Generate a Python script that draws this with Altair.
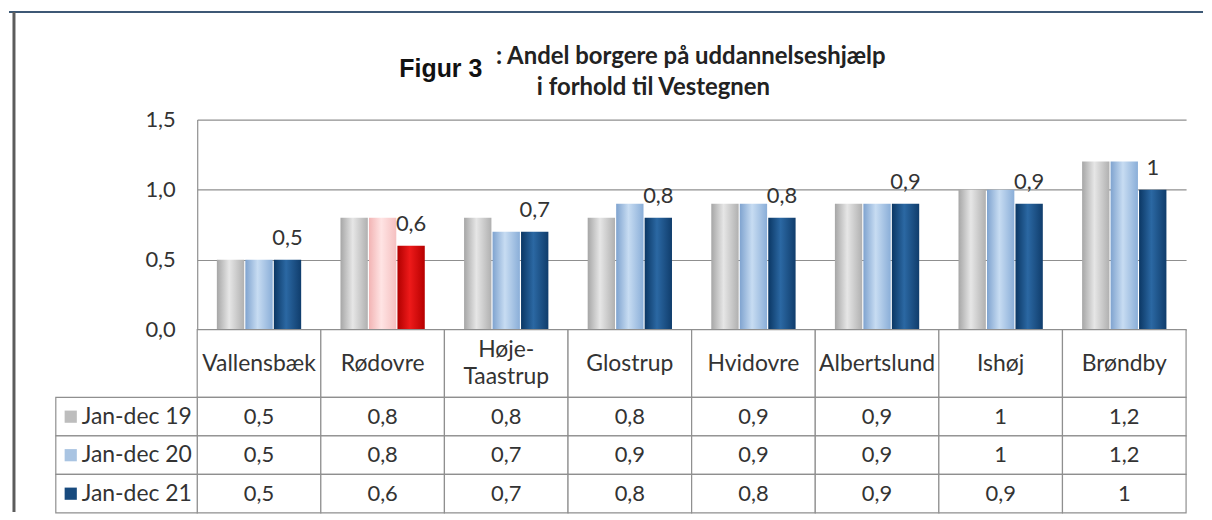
import altair as alt
import pandas as pd

# ---- data ----
categories = ["Vallensbæk", "Rødovre", "Høje-Taastrup", "Glostrup",
              "Hvidovre", "Albertslund", "Ishøj", "Brøndby"]
header_labels = ["Vallensbæk", "Rødovre", "Høje-\nTaastrup", "Glostrup",
                 "Hvidovre", "Albertslund", "Ishøj", "Brøndby"]
series = ["Jan-dec 19", "Jan-dec 20", "Jan-dec 21"]
jan_dec_19 = [0.5, 0.8, 0.8, 0.8, 0.9, 0.9, 1.0, 1.2]
jan_dec_20 = [0.5, 0.8, 0.7, 0.9, 0.9, 0.9, 1.0, 1.2]
jan_dec_21 = [0.5, 0.6, 0.7, 0.8, 0.8, 0.9, 0.9, 1.0]
highlight = "Rødovre"
y_ticks = [0, 0.5, 1.0, 1.5]
title_prefix = "Figur 3"
title_line1 = ": Andel borgere på uddannelseshjælp"
title_line2 = "i forhold til Vestegnen"

rows = []
for s, vals in zip(series, [jan_dec_19, jan_dec_20, jan_dec_21]):
    for c, v in zip(categories, vals):
        rows.append({"cat": c, "series": s, "value": v,
                     "shade": ("hl " if c == highlight else "") + s})
df = pd.DataFrame(rows)

FONT = "Lato"
TXT = "#333333"
GRID = "#8f8f8f"
W = 993


def grad(c0, c1, c2):
    return alt.LinearGradient(
        gradient="linear", x1=0, x2=1, y1=0, y2=0,
        stops=[alt.GradientStop(color=c0, offset=0),
               alt.GradientStop(color=c1, offset=0.45),
               alt.GradientStop(color=c2, offset=1)])


gray = grad("#a6a6a6", "#e6e6e6", "#b0b0b0")
fills = {
    "Jan-dec 19": gray,
    "Jan-dec 20": grad("#7fa3cf", "#c7dcf2", "#8aaed8"),
    "Jan-dec 21": grad("#0b3764", "#2b68a3", "#103d6c"),
    "hl Jan-dec 19": gray,
    "hl Jan-dec 20": grad("#f2b4b4", "#ffe4e4", "#f5c0c0"),
    "hl Jan-dec 21": grad("#b00000", "#ee1a1a", "#b60000"),
}
swatch_colors = ["#bdbdbd", "#a9c4e2", "#174a7e"]

xscale = alt.Scale(domain=categories, paddingInner=0, paddingOuter=0)

base = alt.Chart(df).encode(
    x=alt.X("cat:N", scale=xscale, axis=None),
    xOffset=alt.XOffset("series:N", scale=alt.Scale(domain=series, paddingInner=0.04, paddingOuter=0.69)),
    y=alt.Y("value:Q", scale=alt.Scale(domain=[0, 1.5]),
            axis=alt.Axis(values=y_ticks, title=None, ticks=False, grid=True,
                          gridColor=GRID, gridWidth=1.2, domainColor=GRID, domainWidth=1.2,
                          labelExpr="replace(format(datum.value, '.1f'), '.', ',')",
                          labelFont=FONT, labelFontSize=22, labelColor=TXT,
                          labelPadding=22, labelBaseline="middle")),
)

bar_layers = [base.transform_filter(alt.datum.shade == k).mark_bar(fill=g)
              for k, g in fills.items()]

labels = base.transform_filter(alt.datum.series == series[2]).transform_calculate(
    lbl="replace(toString(datum.value), '.', ',')"
).mark_text(baseline="alphabetic", dy=-15, font=FONT, fontSize=22, color=TXT).encode(
    text="lbl:N")

deco = alt.Chart(pd.DataFrame({"k": [0]}))
frame_top = deco.mark_rule(color="#3d5875", strokeWidth=2).encode(
    x=alt.value(-189), x2=alt.value(1010), y=alt.value(-108))
frame_left = deco.mark_rule(color="#5c5c5c", strokeWidth=3).encode(
    x=alt.value(-184), y=alt.value(-108), y2=alt.value(394))
t0 = deco.mark_text(align="left", baseline="alphabetic", font="Liberation Sans",
                    fontWeight="bold", fontSize=25, color="#111111").encode(
    x=alt.value(203), y=alt.value(-43), text=alt.value(title_prefix))
t1 = deco.mark_text(align="left", baseline="alphabetic", font=FONT,
                    fontWeight="bold", fontSize=24, color="#222222").encode(
    x=alt.value(300), y=alt.value(-56), text=alt.value(title_line1))
t2 = deco.mark_text(align="left", baseline="alphabetic", font=FONT,
                    fontWeight="bold", fontSize=24, color="#222222").encode(
    x=alt.value(341), y=alt.value(-25), text=alt.value(title_line2))

bars = alt.layer(*bar_layers, labels, frame_top, frame_left, t0, t1, t2).properties(
    width=W, height=211)

# ---- header row of table ----
hdr_df = pd.DataFrame({"cat": categories, "hdr": header_labels, "row": ["h"] * len(categories)})
hdr_base = alt.Chart(hdr_df).encode(
    x=alt.X("cat:N", scale=xscale, axis=None),
    y=alt.Y("row:N", axis=None, scale=alt.Scale(paddingInner=0, paddingOuter=0)))
hdr = alt.layer(
    hdr_base.mark_rect(fill="white", stroke=GRID, strokeWidth=1.2),
    hdr_base.transform_filter("indexof(datum.hdr, '\\n') < 0").mark_text(
        font=FONT, fontSize=23, color=TXT).encode(text="hdr:N"),
    hdr_base.transform_filter("indexof(datum.hdr, '\\n') >= 0").mark_text(
        font=FONT, fontSize=23, color=TXT, lineBreak="\n", lineHeight=28, dy=-14).encode(
        text="hdr:N"),
).properties(width=W, height=68)

# ---- data rows of table ----
yrow = alt.Y("series:N", sort=series, axis=None,
             scale=alt.Scale(domain=series, paddingInner=0, paddingOuter=0))
tbl_base = alt.Chart(df).transform_calculate(
    lbl="replace(toString(datum.value), '.', ',')"
).encode(x=alt.X("cat:N", scale=xscale, axis=None), y=yrow)
leg_df = pd.DataFrame({"series": series})
leg_base = alt.Chart(leg_df).encode(y=yrow)

tbl = alt.layer(
    tbl_base.mark_rect(fill="white", stroke=GRID, strokeWidth=1.2),
    tbl_base.mark_text(font=FONT, fontSize=22, color=TXT).encode(text="lbl:N"),
    leg_base.mark_rect(fill="white", stroke=GRID, strokeWidth=1.2).encode(
        x=alt.value(-142), x2=alt.value(0)),
    leg_base.mark_square(size=150, opacity=1, filled=True).encode(
        x=alt.value(-127),
        color=alt.Color("series:N", scale=alt.Scale(domain=series, range=swatch_colors), legend=None)),
    leg_base.mark_text(align="left", font=FONT, fontSize=23, color=TXT).encode(
        x=alt.value(-116), text="series:N"),
).properties(width=W, height=116)

chart = alt.vconcat(bars, hdr, tbl, spacing=0, bounds="flush").properties(
    padding={"left": 0, "top": 1, "right": 0, "bottom": 0},
    background="white",
).configure_view(stroke=None)

chart.save("out.html", embed_options={"renderer": "svg", "actions": False})
